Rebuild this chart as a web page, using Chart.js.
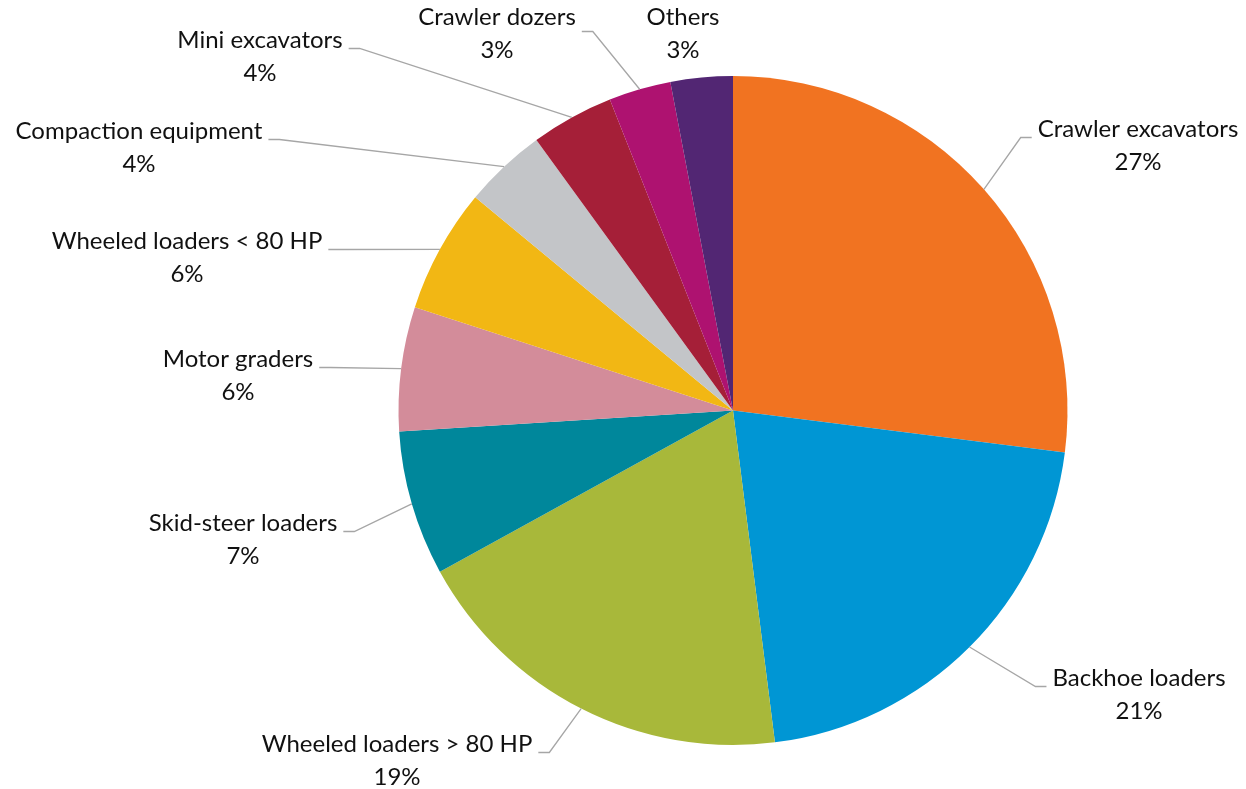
<!DOCTYPE html>
<html>
<head>
<meta charset="utf-8">
<title>Equipment sales by type</title>
<script src="https://cdn.jsdelivr.net/npm/chart.js@4/dist/chart.umd.min.js"></script>
<style>
  html, body { margin: 0; padding: 0; background: #ffffff; }
  #wrap { position: relative; width: 1246px; height: 789px; }
</style>
</head>
<body>
<div id="wrap"><canvas id="pie"></canvas></div>
<script>
// Equipment categories, clockwise from 12 o'clock
const categories = [
  'Crawler excavators',
  'Backhoe loaders',
  'Wheeled loaders > 80 HP',
  'Skid-steer loaders',
  'Motor graders',
  'Wheeled loaders < 80 HP',
  'Compaction equipment',
  'Mini excavators',
  'Crawler dozers',
  'Others'
];

// Share of units, in percent
const shares = [27, 21, 19, 7, 6, 6, 4, 4, 3, 3];

const sliceColors = [
  '#F17321', '#0096D4', '#A8B83A', '#00879B', '#D38C9A',
  '#F2B714', '#C3C5C8', '#A51F38', '#AE1270', '#522673'
];

// Where each two-line label sits, as an offset from the pie centre
const labelPlacement = [
  { dx: 405,  dy: -281 },
  { dx: 406,  dy: 268 },
  { dx: -336, dy: 334 },
  { dx: -490, dy: 113 },
  { dx: -495, dy: -51 },
  { dx: -546, dy: -169 },
  { dx: -594, dy: -279 },
  { dx: -473, dy: -370 },
  { dx: -236, dy: -393, stubDy: 14 },
  { dx: -50,  dy: -393, leader: false }
];

// Draws the category name and percentage beside each slice, with an elbow leader line
const calloutPlugin = {
  id: 'callouts',
  afterDatasetsDraw(chart, args, opts) {
    const meta = chart.getDatasetMeta(0);
    const ctx = chart.ctx;
    ctx.save();
    ctx.font = opts.fontSize + 'px ' + opts.fontFamily;
    ctx.textAlign = 'center';
    ctx.textBaseline = 'middle';
    meta.data.forEach((arc, i) => {
      const p = arc.getProps(['x', 'y', 'startAngle', 'endAngle', 'outerRadius'], true);
      const place = opts.placement[i];
      const tx = p.x + place.dx;
      const ty = p.y + place.dy;
      const lines = [chart.data.labels[i], chart.data.datasets[0].data[i] + '%'];

      ctx.fillStyle = opts.color;
      lines.forEach((s, k) => ctx.fillText(s, tx, ty + k * opts.lineHeight));

      if (place.leader === false) return;
      const mid = (p.startAngle + p.endAngle) / 2;
      const ax = p.x + Math.cos(mid) * p.outerRadius;
      const ay = p.y + Math.sin(mid) * p.outerRadius;
      const w = ctx.measureText(lines[0]).width;
      const dir = place.dx > 0 ? -1 : 1;
      const sx0 = tx + dir * (w / 2 + opts.gap);
      const sx1 = sx0 + dir * opts.stub;
      const sy = ty + (place.stubDy !== undefined ? place.stubDy : opts.stubDy);

      ctx.strokeStyle = opts.lineColor;
      ctx.lineWidth = opts.lineWidth;
      ctx.beginPath();
      ctx.moveTo(sx0, sy);
      ctx.lineTo(sx1, sy);
      ctx.lineTo(ax, ay);
      ctx.stroke();
    });
    ctx.restore();
  }
};

new Chart(document.getElementById('pie'), {
  type: 'pie',
  data: {
    labels: categories,
    datasets: [{
      data: shares,
      backgroundColor: sliceColors,
      borderWidth: 0
    }]
  },
  options: {
    responsive: true,
    maintainAspectRatio: false,
    animation: false,
    events: [],
    layout: { padding: { left: 398, right: 178, top: 76, bottom: 44 } },
    plugins: {
      legend: { display: false },
      tooltip: { enabled: false },
      callouts: {
        placement: labelPlacement,
        fontFamily: 'Lato, "Open Sans", sans-serif',
        fontSize: 24,
        lineHeight: 33,
        color: '#111111',
        lineColor: '#A6A6A6',
        lineWidth: 1.3,
        gap: 6,
        stub: 11,
        stubDy: 8
      }
    }
  },
  plugins: [calloutPlugin]
});
</script>
</body>
</html>
